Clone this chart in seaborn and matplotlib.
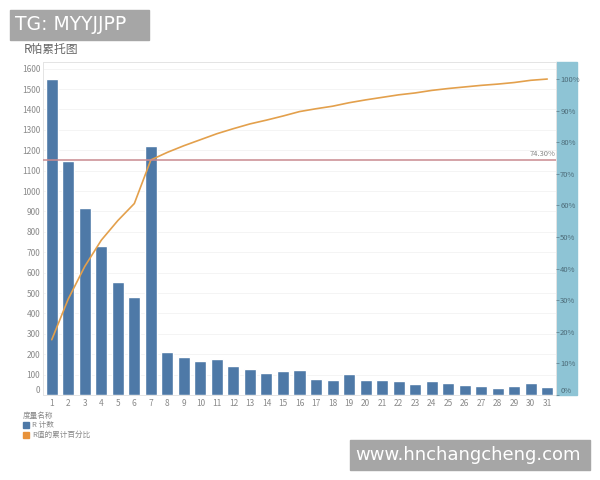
import matplotlib
matplotlib.use('Agg')
import matplotlib.pyplot as plt
from matplotlib.patches import Rectangle
import seaborn as sns
import numpy as np
import pandas as pd

# data
categories = [str(i) for i in range(1, 32)]
counts = [1550, 1145, 915, 732, 555, 480, 1222, 212, 185, 168, 175, 142, 127, 109, 116, 121,
          78, 75, 101, 74, 72, 69, 56, 67, 57, 47, 44, 36, 44, 57, 39]
cum_pct = [17.5, 30.4, 40.7, 49.0, 55.2, 60.6, 74.4, 76.8, 78.9, 80.8, 82.7, 84.3, 85.8, 87.0,
           88.3, 89.7, 90.6, 91.4, 92.5, 93.4, 94.2, 95.0, 95.6, 96.4, 97.0, 97.5, 98.0, 98.4,
           98.9, 99.6, 100.0]
left_ticks = list(range(0, 1700, 100))
right_ticks = list(range(0, 110, 10))
ref_value = 74.30

bar_col = '#4E79A7'
line_col = '#E3A04C'
band_col = '#8EC4D5'
txt_col = '#8a8a8a'

sns.set_style('white')
plt.rcParams['font.family'] = ['Noto Sans CJK SC', 'DejaVu Sans']

W, H = 600, 480
fig = plt.figure(figsize=(6, 4.8), dpi=100)

def fx(px):
    return px / W

def fy(py):
    return 1 - py / H

df = pd.DataFrame({'cat': categories, 'count': counts, 'pct': cum_pct,
                   'pos': range(len(categories))})

ax = fig.add_axes([fx(43), fy(395), fx(556 - 43), (395 - 62.3) / H])
sns.barplot(data=df, x='cat', y='count', color=bar_col, saturation=1, width=0.73, ax=ax)
ax.set_ylim(0, 1631)
ax.set_yticks(left_ticks)
ax.set_yticklabels([str(t) for t in left_ticks])
ax.grid(axis='y', color='#f2f2f2', lw=0.6)
ax.set_axisbelow(True)
ax.tick_params(axis='both', length=0, labelsize=6, labelcolor=txt_col)
ax.tick_params(axis='y', pad=2)
ax.tick_params(axis='x', pad=3)
ax.set_xlabel('')
ax.set_ylabel('')
for s in ax.spines.values():
    s.set_color('#e4e4e4')
    s.set_linewidth(0.7)
for lbl in ax.get_yticklabels():
    if lbl.get_text() == '0':
        lbl.set_va('bottom')

ax2 = ax.twinx()
sns.lineplot(data=df, x='pos', y='pct', color=line_col, lw=1.2, ax=ax2)
ax2.axhline(ref_value, color='#C98A90', lw=1.1)
ax2.text(30.5, ref_value + 0.6, f'{ref_value:.2f}%', ha='right', va='bottom',
         fontsize=5.5, color='#888888')
ax2.set_ylim(0, 105.3)
ax2.set_yticks(right_ticks)
ax2.set_yticklabels([f'{t}%' for t in right_ticks])
ax2.tick_params(axis='y', length=2, width=0.5, color='#5a7a88', pad=1,
                labelsize=5.5, labelcolor='#4d6b78')
for lbl in ax2.get_yticklabels():
    if lbl.get_text() == '0%':
        lbl.set_va('bottom')
ax2.set_xlabel('')
ax2.set_ylabel('')
for s in ax2.spines.values():
    s.set_visible(False)
ax.set_xlim(-0.53, 30.53)
ax2.set_xlim(-0.53, 30.53)

# right axis band
fig.patches.append(Rectangle((fx(556), fy(395)), fx(21), (395 - 62.3) / H,
                             transform=fig.transFigure, color=band_col, zorder=-1))

# title
fig.text(fx(24), fy(50), 'R帕累托图', fontsize=8.5, color='#666666', va='center')

# legend
fig.text(fx(23), fy(416), '度量名称', fontsize=5.5, color='#888888', va='center')
fig.patches.append(Rectangle((fx(23), fy(428)), fx(6), 6 / H,
                             transform=fig.transFigure, color=bar_col))
fig.text(fx(32), fy(425), 'R 计数', fontsize=5.5, color='#888888', va='center')
fig.patches.append(Rectangle((fx(23), fy(438)), fx(6), 6 / H,
                             transform=fig.transFigure, color='#E8923A'))
fig.text(fx(32), fy(435), 'R值的累计百分比', fontsize=5.5, color='#888888', va='center')

# watermark boxes
fig.patches.append(Rectangle((fx(10), fy(40)), fx(139), 30 / H,
                             transform=fig.transFigure, color='#a6a6a6', zorder=5))
fig.text(fx(15), fy(25), 'TG: MYYJJPP', fontsize=13.5, color='white', va='center',
         family='DejaVu Sans', zorder=6)
fig.patches.append(Rectangle((fx(350), fy(470)), fx(240), 30 / H,
                             transform=fig.transFigure, color='#a6a6a6', zorder=5))
fig.text(fx(355), fy(455), 'www.hnchangcheng.com', fontsize=13, color='white',
         va='center', family='DejaVu Sans', zorder=6)

fig.savefig('out.png', dpi=100)
